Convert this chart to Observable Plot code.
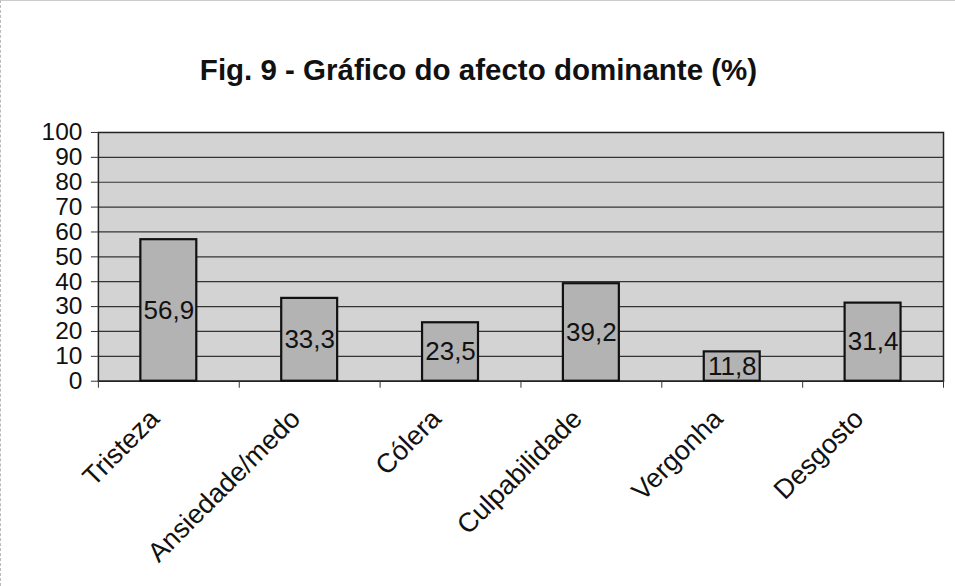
<!DOCTYPE html>
<html>
<head>
<meta charset="utf-8">
<script src="https://cdn.jsdelivr.net/npm/d3@7"></script>
<script src="https://cdn.jsdelivr.net/npm/@observablehq/plot@0.6"></script>
<style>
  html, body { margin: 0; padding: 0; background: #fff; }
  #wrap { position: relative; width: 955px; height: 586px; overflow: hidden; box-sizing: border-box; border-left: 1px dashed #bbb; border-top: 1px solid #ccc; }
  #title { position: absolute; left: 0; width: 955px; top: 52px; text-align: center; font-family: "Liberation Sans", Arial, sans-serif; font-weight: bold; font-size: 29.5px; color: #111; }
  #chart { position: absolute; left: 0; top: 110px; }
</style>
</head>
<body>
<div id="wrap">
  <div id="title">Fig. 9 - Gráfico do afecto dominante (%)</div>
  <div id="chart"></div>
</div>
<script>
const categories = ["Tristeza", "Ansiedade/medo", "Cólera", "Culpabilidade", "Vergonha", "Desgosto"];
const values = [56.9, 33.3, 23.5, 39.2, 11.8, 31.4];
const yTicks = [0, 10, 20, 30, 40, 50, 60, 70, 80, 90, 100];

const data = categories.map((c, i) => ({category: c, value: values[i]}));
const fmt = v => v.toFixed(1).replace(".", ",");

const W = 955, H = 476, ML = 97, MR = 12, MT = 21, MB = 206;
const step = (W - ML - MR) / categories.length;
const barW = 56;
const inset = (step - barW) / 2;

const chart = Plot.plot({
  width: W,
  height: H,
  marginLeft: ML,
  marginRight: MR,
  marginTop: MT,
  marginBottom: MB,
  style: {fontFamily: "'Liberation Sans', Arial, sans-serif", background: "transparent", color: "#111"},
  x: {domain: categories, padding: 0, label: null},
  y: {domain: [0, 100], label: null},
  marks: [
    Plot.frame({fill: "#d3d3d3", stroke: null}),
    Plot.gridY(yTicks, {stroke: "#222", strokeOpacity: 0.9, strokeWidth: 1.2}),
    Plot.frame({stroke: "#222", strokeWidth: 1.5}),
    Plot.barY(data, {x: "category", y: "value", fill: "#b3b3b3", stroke: "#111", strokeWidth: 2.2, insetLeft: inset, insetRight: inset}),
    Plot.text(data, {x: "category", y: d => d.value / 2, text: d => fmt(d.value), fontSize: 26, fill: "#111"}),
    Plot.axisY(yTicks, {tickSize: 7, tickPadding: 9, fontSize: 24.5, stroke: "#333", fill: "#111"}),
    Plot.axisX(categories, {text: null, tickSize: 7, dx: -step / 2, stroke: "#333"}),
    Plot.axisX([categories[categories.length - 1]], {text: null, tickSize: 7, dx: step / 2, stroke: "#333"}),
    Plot.axisX(categories, {tickSize: 0, tickRotate: -45, fontSize: 27, tickPadding: 33, dx: -14, textAnchor: "end", fill: "#111"})
  ]
});
document.getElementById("chart").appendChild(chart);
</script>
</body>
</html>
